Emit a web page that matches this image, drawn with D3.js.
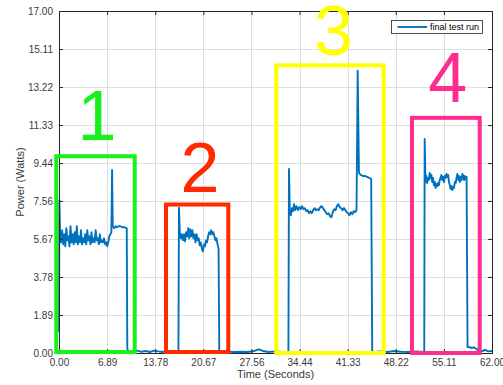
<!DOCTYPE html>
<html>
<head>
<meta charset="utf-8">
<script src="https://cdn.jsdelivr.net/npm/d3@7"></script>
<style>
body { margin: 0; background: #fff; }
svg { display: block; font-family: "Liberation Sans", Arial, Helvetica, sans-serif; }
</style>
</head>
<body>
<div id="chart"></div>
<script>
// Tick values from the original figure
var xTicks = [0, 6.89, 13.78, 20.67, 27.56, 34.44, 41.33, 48.22, 55.11, 62.00];
var yTicks = [0, 1.89, 3.78, 5.67, 7.56, 9.44, 11.33, 13.22, 15.11, 17.00];

// Sampled run: time in seconds
var timeSec = [
    0, 0.05, 0.15, 0.3, 0.45, 0.6, 0.75, 0.9, 1.05, 1.2, 1.35, 1.5, 1.65, 1.8, 1.95, 2.1, 2.25, 2.4, 2.55, 2.7, 2.85,
    3.0, 3.15, 3.3, 3.45, 3.6, 3.75, 3.9, 4.05, 4.2, 4.35, 4.5, 4.65, 4.8, 4.95, 5.1, 5.25, 5.4, 5.55, 5.7, 5.85,
    6.0, 6.15, 6.3, 6.45, 6.6, 6.75, 6.9, 7.05, 7.2, 7.35, 7.5, 7.6, 7.7, 7.9, 8.1, 8.3, 8.5, 8.8, 9.1, 9.4, 9.7, 9.78, 9.85,
    10.0, 10.6, 11.2, 11.8, 12.4, 13.0, 13.6, 14.2, 14.8, 15.4, 16.0, 16.6, 17.1,
    17.18, 17.3, 17.45, 17.6, 17.75, 17.9, 18.05, 18.2, 18.35, 18.5, 18.65, 18.8, 18.95, 19.1, 19.25, 19.4, 19.55, 19.7, 19.85, 20.0,
    20.15, 20.3, 20.45, 20.6, 20.75, 20.9, 21.05, 21.2, 21.35, 21.5, 21.65, 21.8, 21.95, 22.1, 22.25, 22.4, 22.55, 22.7, 22.85, 22.95,
    23.2, 24.0, 25.0, 26.0, 27.0, 28.0, 28.6, 29.2, 30.0, 31.0, 32.0, 32.85,
    32.93, 33.05, 33.2, 33.35, 33.5, 33.65,
    33.8, 34.0, 34.2, 34.4, 34.6, 34.8, 35.0, 35.2, 35.4, 35.6, 35.8, 36.0, 36.2, 36.4, 36.6, 36.8, 37.0, 37.2, 37.4, 37.6,
    37.8, 38.0, 38.2, 38.4, 38.6, 38.8, 39.0, 39.2, 39.4, 39.6, 39.8, 40.0, 40.2, 40.4, 40.6, 40.8, 41.0, 41.2, 41.4, 41.6,
    41.8, 42.0, 42.2, 42.4, 42.6,
    42.77, 42.95, 43.2, 43.5, 43.8, 44.1, 44.4, 44.7, 44.85,
    45.1, 46.0, 47.0, 48.0, 49.0, 50.0, 51.0, 52.3,
    52.36, 52.48, 52.6, 52.72, 52.84, 52.96, 53.08, 53.2, 53.32, 53.44, 53.56, 53.68, 53.8, 53.92, 54.04, 54.16, 54.28, 54.4, 54.52, 54.64, 54.76,
    54.88, 55.0, 55.12, 55.24, 55.36, 55.48, 55.6, 55.72, 55.84, 55.96, 56.08, 56.2, 56.32, 56.44, 56.56, 56.68, 56.8, 56.92, 57.04, 57.16,
    57.28, 57.4, 57.52, 57.64, 57.76, 57.88, 58.0, 58.12, 58.24, 58.36,
    58.5, 58.7, 59.0, 59.4, 59.8, 60.2, 60.6, 61.0, 61.5, 62.0
];

// Sampled run: power in watts (same order as timeSec)
var powerW = [
    1.05, 7.6, 6.0, 5.5, 6.1, 5.4, 5.9, 5.3, 6.2, 5.6, 5.8, 5.3, 6.3, 5.5, 5.9, 5.4, 6.0, 5.5, 6.3, 5.4, 5.8,
    5.5, 6.1, 5.4, 5.7, 5.5, 5.9, 5.4, 6.1, 5.6, 5.8, 5.4, 6.0, 5.5, 5.7, 5.5, 6.1, 5.6, 5.7, 5.4, 5.9,
    5.5, 5.6, 5.5, 5.7, 5.4, 5.5, 5.3, 5.5, 5.8, 5.9, 6.0, 9.1, 6.3, 6.2, 6.3, 6.25, 6.3, 6.3, 6.25, 6.25, 6.2, 0.3, 0.0,
    0.1, 0.05, 0.12, 0.06, 0.1, 0.05, 0.12, 0.08, 0.05, 0.1, 0.06, 0.1, 0.05,
    7.22, 6.0, 5.7, 5.9, 5.6, 5.9, 5.55, 6.0, 5.8, 6.2, 5.7, 6.15, 5.8, 6.1, 5.7, 5.9, 5.5, 5.9, 5.6, 5.7,
    5.35, 5.5, 5.2, 5.05, 5.4, 5.3, 5.6, 5.5, 5.8, 6.0, 5.9, 6.1, 5.9, 6.0, 5.8, 5.6, 5.7, 5.4, 5.2, 0.1,
    0.05, 0.08, 0.05, 0.06, 0.05, 0.1, 0.18, 0.1, 0.05, 0.08, 0.05, 0.05,
    9.15, 7.0, 6.85, 7.2, 7.05, 7.4,
    7.1, 7.3, 7.1, 7.25, 7.15, 7.3, 7.15, 7.2, 7.05, 7.1, 6.95, 7.05, 6.95, 7.1, 7.2, 7.1, 7.15, 7.1, 7.25, 7.3,
    7.2, 7.1, 7.0, 6.9, 6.95, 6.8, 6.75, 7.0, 7.15, 7.1, 7.3, 7.4, 7.25, 7.2, 7.1, 7.2, 7.1, 7.0, 6.95, 6.85,
    7.0, 6.9, 7.05, 7.0, 7.1,
    14.03, 8.95, 8.85, 8.8, 8.8, 8.75, 8.7, 8.65, 0.1,
    0.05, 0.08, 0.05, 0.1, 0.06, 0.05, 0.08, 0.05,
    10.64, 8.5, 8.8, 8.45, 8.7, 8.6, 8.95, 8.7, 8.85, 8.5, 8.7, 8.35, 8.5, 8.2, 8.4, 8.3, 8.45, 8.35, 8.6, 8.7, 8.85,
    8.6, 8.75, 8.5, 8.8, 8.7, 8.9, 8.75, 8.85, 8.5, 8.35, 8.15, 8.3, 8.1, 8.25, 8.2, 8.5, 8.45, 8.7, 8.9, 8.6,
    8.8, 8.5, 8.75, 8.6, 8.9, 8.8, 8.6, 8.8, 8.65, 8.75,
    0.3, 0.3, 0.25, 0.28, 0.2, 0.05, 0.1, 0.15, 0.08, 0.1
];

// Highlighted test phases: [t start, t end, P bottom, P top] and label anchor [t, P]
var phaseNames = ["1", "2", "3", "4"];
var phaseBoxes = [[-0.39, 10.84, 0.05, 9.78], [15.32, 24.24, 0.05, 7.38], [31.11, 46.49, 0, 14.3], [50.54, 60.24, 0, 11.69]];
var phaseLabelAt = [[5.43, 10.59], [20.19, 8.0], [39.3, 14.8], [55.66, 12.49]];
var phaseColors = ["#19f019", "#ff2a00", "#ffff00", "#ff2d8f"];

var width = 503, height = 385;
var axisColor = "#262626";

var svg = d3.select("#chart").append("svg")
    .attr("width", width)
    .attr("height", height);

// Scales, plot box is 59..492 by 11..353
var x = d3.scaleLinear().domain([0, 62]).range([59, 492]);
var y = d3.scaleLinear().domain([0, 17]).range([353, 11]);

// Grid lines
svg.append("g").selectAll("line")
    .data(xTicks.slice(1, -1))
    .join("line")
    .attr("x1", d => Math.round(x(d)) + 0.5)
    .attr("x2", d => Math.round(x(d)) + 0.5)
    .attr("y1", y(17))
    .attr("y2", y(0))
    .attr("stroke", "#dedede")
    .attr("stroke-width", 1);

svg.append("g").selectAll("line")
    .data(yTicks.slice(1, -1))
    .join("line")
    .attr("x1", x(0))
    .attr("x2", x(62))
    .attr("y1", d => Math.round(y(d)) + 0.5)
    .attr("y2", d => Math.round(y(d)) + 0.5)
    .attr("stroke", "#dedede")
    .attr("stroke-width", 1);

// The power trace
var line = d3.line()
    .x(d => x(d[0]))
    .y(d => y(d[1]));

svg.append("path")
    .datum(d3.zip(timeSec, powerW))
    .attr("d", line)
    .attr("fill", "none")
    .attr("stroke", "#0072bd")
    .attr("stroke-width", 1.9)
    .attr("stroke-linejoin", "round");

// Axes with inward ticks on all four sides
var fmt = d3.format(".2f");
function styleAxis(g) {
    g.select(".domain").remove();
    g.selectAll(".tick line").attr("stroke", axisColor);
    g.selectAll(".tick text").attr("fill", "#3a3a3a").attr("font-size", 10);
    g.attr("font-family", null);
}

svg.append("g")
    .attr("transform", "translate(0,353)")
    .call(d3.axisBottom(x).tickValues(xTicks).tickFormat(fmt).tickSizeInner(-4).tickSizeOuter(0).tickPadding(6))
    .call(styleAxis);

svg.append("g")
    .attr("transform", "translate(59,0)")
    .call(d3.axisLeft(y).tickValues(yTicks).tickFormat(fmt).tickSizeInner(-4).tickSizeOuter(0).tickPadding(6))
    .call(styleAxis);

svg.append("g")
    .attr("transform", "translate(0,11)")
    .call(d3.axisTop(x).tickValues(xTicks).tickFormat("").tickSizeInner(-4).tickSizeOuter(0))
    .call(styleAxis);

svg.append("g")
    .attr("transform", "translate(492,0)")
    .call(d3.axisRight(y).tickValues(yTicks).tickFormat("").tickSizeInner(-4).tickSizeOuter(0))
    .call(styleAxis);

// Frame
svg.append("rect")
    .attr("x", x(0) + 0.5)
    .attr("y", y(17) + 0.5)
    .attr("width", x(62) - x(0))
    .attr("height", y(0) - y(17))
    .attr("fill", "none")
    .attr("stroke", axisColor)
    .attr("stroke-width", 1);

// Axis labels
svg.append("text")
    .attr("x", (x(0) + x(62)) / 2)
    .attr("y", 378)
    .attr("text-anchor", "middle")
    .attr("font-size", 11)
    .attr("fill", "#3a3a3a")
    .text("Time (Seconds)");

svg.append("text")
    .attr("transform", "translate(24," + ((y(0) + y(17)) / 2) + ") rotate(-90)")
    .attr("text-anchor", "middle")
    .attr("font-size", 11)
    .attr("fill", "#3a3a3a")
    .text("Power (Watts)");

// Legend
var legend = svg.append("g");
legend.append("rect")
    .attr("x", 391.5)
    .attr("y", 20.5)
    .attr("width", 91)
    .attr("height", 13)
    .attr("fill", "#fff")
    .attr("stroke", axisColor)
    .attr("stroke-width", 0.8);
legend.append("line")
    .attr("x1", 397.5)
    .attr("x2", 427)
    .attr("y1", 27)
    .attr("y2", 27)
    .attr("stroke", "#0072bd")
    .attr("stroke-width", 1.9);
legend.append("text")
    .attr("x", 430)
    .attr("y", 30.3)
    .attr("font-size", 9)
    .attr("fill", "#000")
    .text("final test run");

// Phase boxes and numbers
svg.append("g").selectAll("rect")
    .data(phaseBoxes)
    .join("rect")
    .attr("x", d => x(d[0]))
    .attr("y", d => y(d[3]))
    .attr("width", d => x(d[1]) - x(d[0]))
    .attr("height", d => y(d[2]) - y(d[3]))
    .attr("fill", "none")
    .attr("stroke", (d, i) => phaseColors[i])
    .attr("stroke-width", 4);

svg.append("g").selectAll("text")
    .data(phaseLabelAt)
    .join("text")
    .attr("x", d => x(d[0]))
    .attr("y", d => y(d[1]))
    .attr("text-anchor", "middle")
    .attr("font-size", 70)
    .attr("fill", (d, i) => phaseColors[i])
    .text((d, i) => phaseNames[i]);
</script>
</body>
</html>
